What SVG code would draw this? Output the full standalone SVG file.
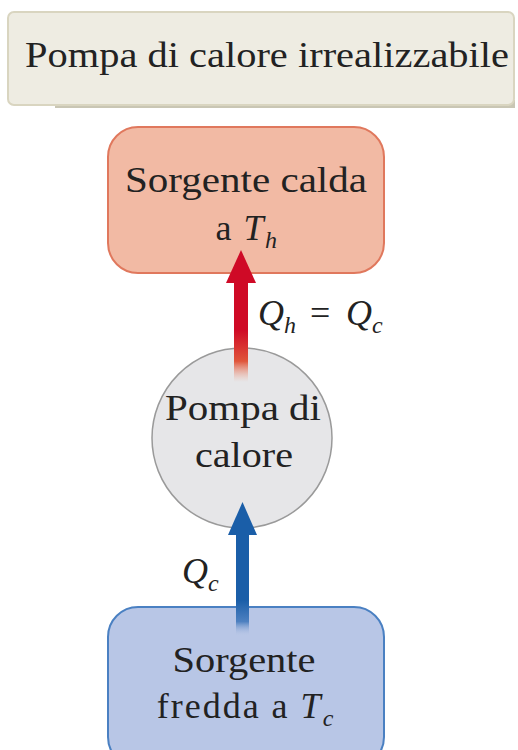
<svg xmlns="http://www.w3.org/2000/svg" width="518" height="750" viewBox="0 0 518 750">
<defs>
<style>
text{font-family:"Liberation Serif","Times New Roman",serif;fill:#222;}
.lbl{font-size:36px;text-anchor:middle;}
.it{font-style:italic;}
</style>
<linearGradient id="gRed" gradientUnits="userSpaceOnUse" x1="0" y1="330" x2="0" y2="382">
<stop offset="0" stop-color="#cf0a26"/>
<stop offset="0.6" stop-color="#e0553a"/>
<stop offset="1" stop-color="#f2a890" stop-opacity="0"/>
</linearGradient>
<linearGradient id="gBlue" gradientUnits="userSpaceOnUse" x1="0" y1="600" x2="0" y2="636">
<stop offset="0" stop-color="#1a5ea8"/>
<stop offset="0.6" stop-color="#4d80c0"/>
<stop offset="1" stop-color="#b8c6e6" stop-opacity="0"/>
</linearGradient>
</defs>
<rect width="518" height="750" fill="#fff"/>
<g id="title">
<rect x="55" y="100" width="460" height="8" fill="#c9c6b4"/>
<rect x="8" y="12" width="506" height="93" rx="6" fill="#eeece2" stroke="#d9d5c0" stroke-width="2"/>
<text x="267" y="67" class="lbl" textLength="484" lengthAdjust="spacingAndGlyphs">Pompa di calore irrealizzabile</text>
</g>
<g id="hot">
<rect x="108" y="127" width="276" height="146" rx="30" fill="#f2baa4" stroke="#e0785d" stroke-width="2"/>
<text x="246" y="192" class="lbl" textLength="242" lengthAdjust="spacingAndGlyphs">Sorgente calda</text>
<text x="247" y="240" class="lbl" letter-spacing="1.5">a <tspan class="it">T</tspan><tspan class="it" font-size="24" dy="8">h</tspan></text>
</g>
<g id="pump">
<circle cx="242" cy="438" r="90" fill="#e6e6e8" stroke="#9a9a9a" stroke-width="1.5"/>
<text x="243" y="420" class="lbl" textLength="156" lengthAdjust="spacingAndGlyphs">Pompa di</text>
<text x="244" y="467" class="lbl" textLength="98" lengthAdjust="spacingAndGlyphs">calore</text>
</g>
<g id="cold">
<rect x="108" y="607" width="276" height="160" rx="30" fill="#b8c6e6" stroke="#4a80c2" stroke-width="2"/>
<text x="244" y="672" class="lbl" textLength="143" lengthAdjust="spacingAndGlyphs">Sorgente</text>
<text x="246" y="718" class="lbl" letter-spacing="2">fredda a <tspan class="it">T</tspan><tspan class="it" font-size="24" dy="8">c</tspan></text>
</g>
<g id="connectors">
<rect x="234" y="280" width="14" height="102" fill="url(#gRed)"/>
<polygon points="241,250 226,283 256,283" fill="#cf0a26"/>
<rect x="236" y="532" width="13" height="104" fill="url(#gBlue)"/>
<polygon points="242.5,502 228,535 257,535" fill="#1a5ea8"/>
<text x="258" y="325" font-size="36" class="it">Q<tspan font-size="24" dy="8">h</tspan><tspan x="310" dy="-8" font-style="normal">=</tspan><tspan x="346">Q</tspan><tspan font-size="24" dy="8">c</tspan></text>
<text x="182" y="583" font-size="36" class="it">Q<tspan font-size="24" dy="8">c</tspan></text>
</g>
</svg>
